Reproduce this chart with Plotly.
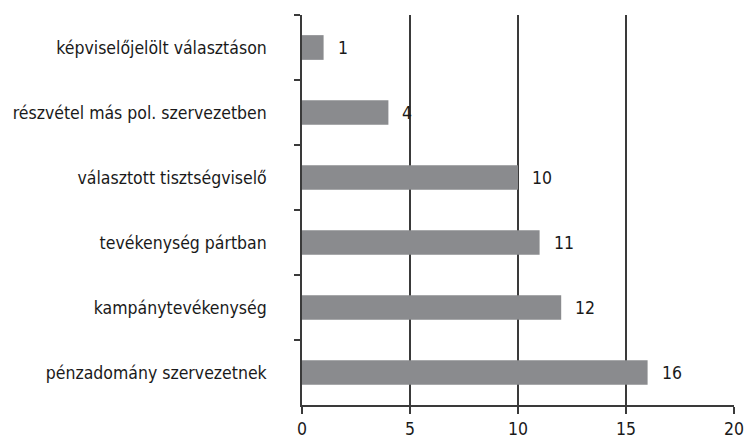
import plotly.graph_objects as go

categories = [
    "képviselőjelölt választáson",
    "részvétel más pol. szervezetben",
    "választott tisztségviselő",
    "tevékenység pártban",
    "kampánytevékenység",
    "pénzadomány szervezetnek",
]
values = [1, 4, 10, 11, 12, 16]
x_ticks = [0, 5, 10, 15, 20]

FONT = "DejaVu Sans Condensed, sans-serif"
LINE = "#3a3a3a"

fig = go.Figure()
fig.add_trace(go.Bar(
    y=categories, x=values, orientation="h",
    marker=dict(color="#8a8b8e", line=dict(width=0)),
    hoverinfo="skip",
))
for c, v in zip(categories, values):
    fig.add_annotation(x=v, y=c, text=str(v), showarrow=False,
                       xanchor="left", xshift=12,
                       font=dict(family=FONT, size=17.5, color="#1a1a1a"))

fig.update_layout(
    width=745, height=440,
    margin=dict(l=302, r=11, t=15, b=35),
    paper_bgcolor="white", plot_bgcolor="white",
    bargap=0.62,
    showlegend=False,
    font=dict(family=FONT, size=17.5, color="#1a1a1a"),
)
fig.update_xaxes(
    range=[0, 20], tickvals=x_ticks, ticktext=[str(t) for t in x_ticks],
    showgrid=True, gridcolor=LINE, gridwidth=1.5,
    showline=True, linecolor=LINE, linewidth=1.5,
    ticks="outside", ticklen=7, tickcolor=LINE, tickwidth=1.5,
    zeroline=False, fixedrange=True, automargin=False,
)
fig.update_yaxes(
    autorange="reversed", type="category",
    showline=True, linecolor=LINE, linewidth=1.5,
    ticks="outside", ticklen=6, tickcolor=LINE, tickwidth=1.5,
    tickson="boundaries", ticklabelstandoff=30,
    showgrid=False, zeroline=False, fixedrange=True, automargin=False,
)
fig.write_html(
    "out.html",
    config={"displayModeBar": False},
    post_script="document.body.style.margin='0';document.body.style.overflow='hidden';",
)
